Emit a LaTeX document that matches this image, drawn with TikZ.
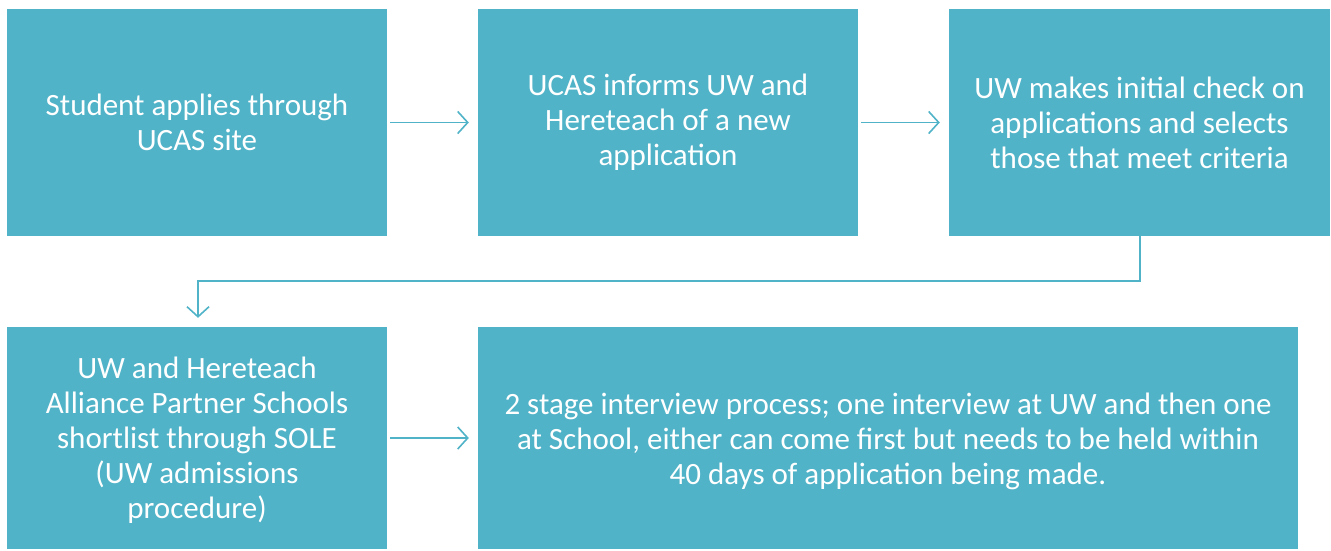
\documentclass[tikz,border=0pt]{standalone}
\usepackage{fontspec}
\setmainfont{Carlito}
\usetikzlibrary{arrows.meta}
\definecolor{teal1}{RGB}{80,179,200}
\begin{document}
\begin{tikzpicture}[x=1pt,y=-1pt,
  box/.style={fill=teal1,draw=none,text=white,font=\fontsize{31}{35}\selectfont,align=center,inner sep=0pt},
  label/.style={text=white,font=\fontsize{31}{35}\selectfont,align=center,inner sep=0pt},
  conn/.style={draw=teal1,line width=1.6pt,-{Straight Barb[length=10pt,width=22pt,line width=1.6pt]}}]
\useasboundingbox (0,0) rectangle (1331,550);
\fill[white] (0,0) rectangle (1331,550);
\node[box,minimum width=380pt,minimum height=227pt] (b1) at (197,122.5) {Student applies through\\UCAS site};
\node[box,minimum width=380pt,minimum height=227pt] (b2) at (668,122.5) {UCAS informs UW and\\Hereteach of a new\\application};
\node[box,minimum width=381pt,minimum height=227pt] (b3) at (1139.5,122.5) {UW makes initial check on\\applications and selects\\those that meet criteria};
\node[box,minimum width=380pt,minimum height=222pt] (b4) at (197,438) {};
\node[label] (t4) at (197,440) {UW and Hereteach\\Alliance Partner Schools\\shortlist through SOLE\\(UW admissions\\procedure)};
\node[box,minimum width=820pt,minimum height=222pt] (b5) at (888,438) {};
\node[label] (t5) at (888,441) {2 stage interview process; one interview at UW and then one\\at School, either can come first but needs to be held within\\40 days of application being made.};
\coordinate (c1) at (1140,281);
\coordinate (c2) at (198,281);
\draw[conn] ([xshift=3pt]b1.east) -- ([xshift=-9pt]b2.west);
\draw[conn] ([xshift=3pt]b2.east) -- ([xshift=-9pt]b3.west);
\draw[conn] (b3.south -| c1) -- (c1) -- (c2) -- ([yshift=9pt]b4.north -| c2);
\draw[conn] ([xshift=3pt]b4.east) -- ([xshift=-9pt]b5.west);
\end{tikzpicture}
\end{document}
